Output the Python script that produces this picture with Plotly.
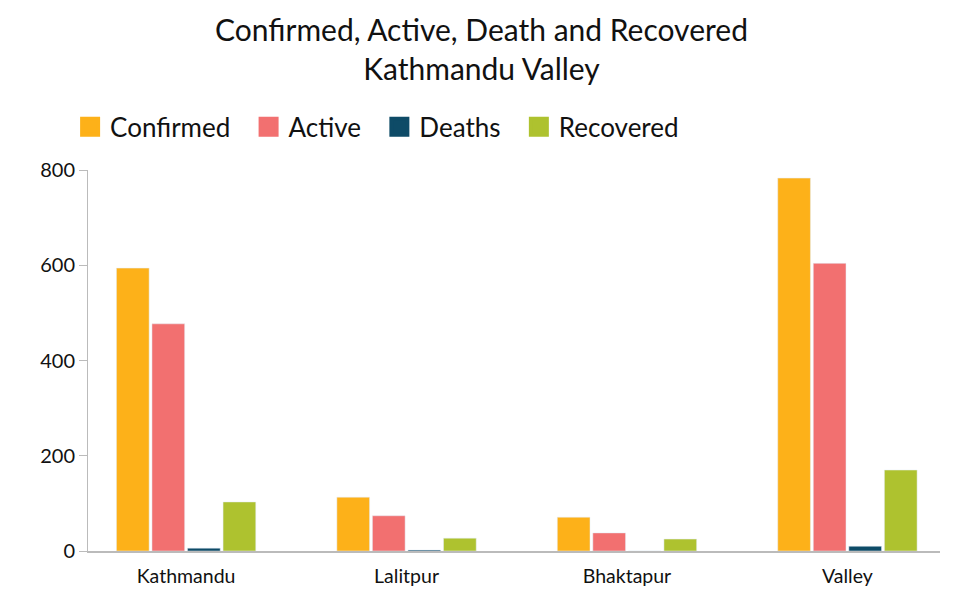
import plotly.graph_objects as go

categories = ["Kathmandu", "Lalitpur", "Bhaktapur", "Valley"]
confirmed = [594, 113, 71, 783]
active = [477, 74, 38, 604]
deaths = [6, 2, 0, 10]
recovered = [103, 27, 25, 170]

series_names = ["Confirmed", "Active", "Deaths", "Recovered"]
series_values = [confirmed, active, deaths, recovered]
colors = ["#FDB119", "#F27070", "#0E4B67", "#AEC22F"]

FONT = "Lato"
NB = "\u00a0\u00a0"

fig = go.Figure()
for name, vals, col in zip(series_names, series_values, colors):
    fig.add_trace(go.Bar(x=categories, y=vals, name=name, marker_color=col,
                         showlegend=False))
# legend entries (larger square symbols)
for name, col in zip(series_names, colors):
    fig.add_trace(go.Scatter(x=[None], y=[None], mode="markers", name=name + NB,
                             marker=dict(symbol="square", size=16, color=col,
                                         line=dict(color=col, width=4))))

fig.update_layout(
    width=947, height=586,
    paper_bgcolor="white", plot_bgcolor="white",
    font=dict(family=FONT, color="#111111"),
    title=dict(text="Confirmed, Active, Death and Recovered<br>Kathmandu Valley",
               x=0.5, xanchor="center", yref="container", y=0.944, yanchor="middle",
               font=dict(size=30, family=FONT, color="#111111")),
    margin=dict(l=80, r=15, t=162, b=43),
    barmode="group", bargap=0.355, bargroupgap=0.08,
    legend=dict(orientation="h", x=-0.021, xanchor="left", y=1.113, yanchor="middle",
                font=dict(size=26, family=FONT, color="#111111"),
                itemsizing="trace", tracegroupgap=0),
    xaxis=dict(range=[-0.445, 3.42], showline=True, linecolor="#BBBBBB", linewidth=1.5,
               ticks="", showgrid=False, tickfont=dict(size=19.5), zeroline=False,
               ticklabelstandoff=7, automargin=False),
    yaxis=dict(range=[0, 800], tickvals=[0, 200, 400, 600, 800], showline=True,
               linecolor="#BBBBBB", linewidth=1, ticks="outside", ticklen=8,
               tickcolor="#BBBBBB", showgrid=False, zeroline=False,
               tickfont=dict(size=20), automargin=False),
)

fig.write_html("out.html")
